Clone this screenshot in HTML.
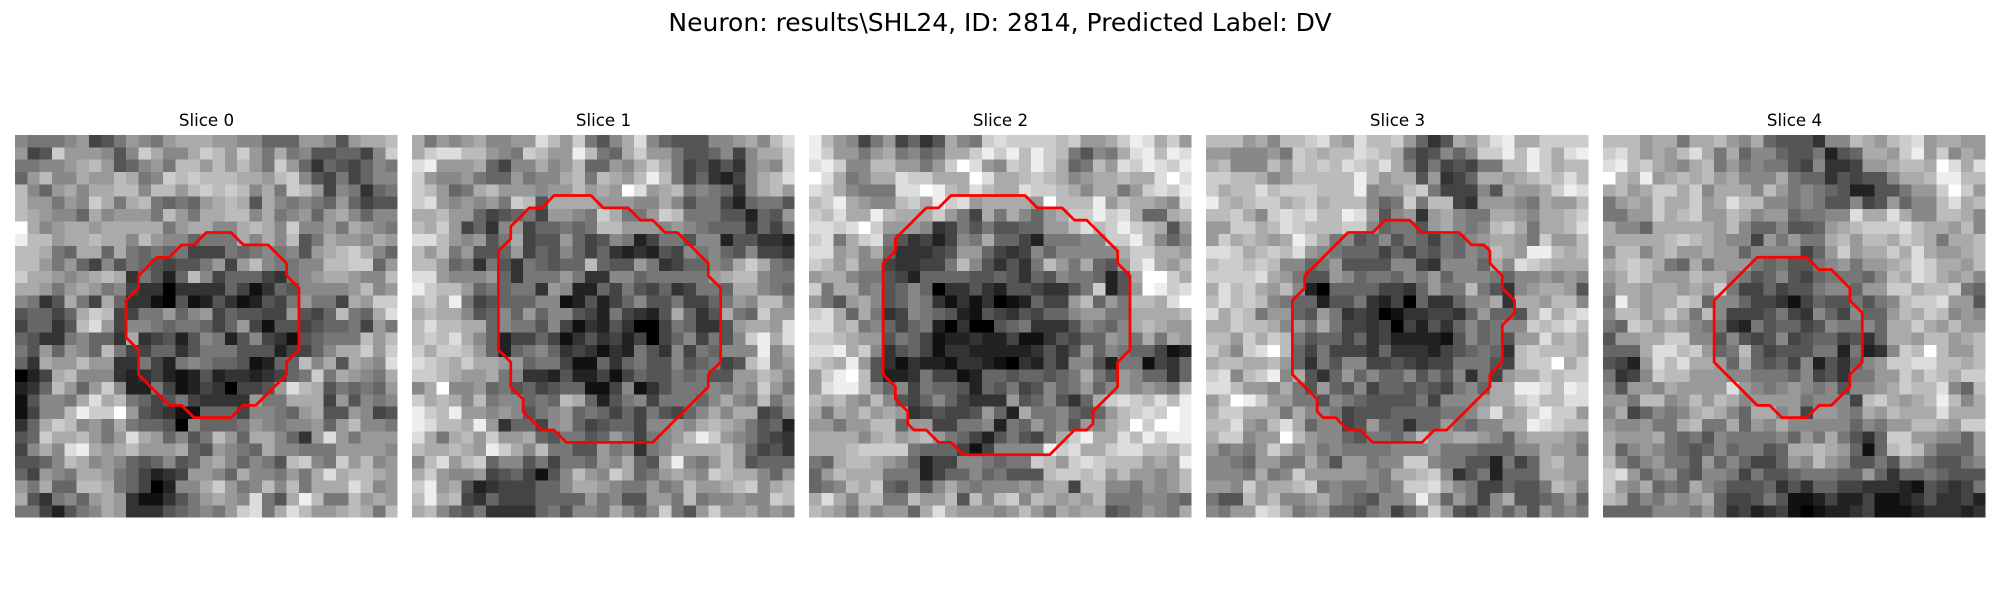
<!DOCTYPE html>
<html lang="en">
<head>
<meta charset="utf-8">
<title>Neuron slices</title>
<style>
html,body{margin:0;padding:0;background:#fff;width:2000px;height:600px;overflow:hidden}
svg{display:block}
text{font-family:"DejaVu Sans","Liberation Sans",sans-serif;fill:#000}
</style>
</head>
<body>
<svg id="figure" xmlns="http://www.w3.org/2000/svg" width="2000" height="600" viewBox="0 0 2000 600">
<rect x="0" y="0" width="2000" height="600" fill="#fff"/>
<text x="1000" y="31" font-size="25" text-anchor="middle">Neuron: results\SHL24, ID: 2814, Predicted Label: DV</text>
<text x="206.5" y="126" font-size="16.67" text-anchor="middle">Slice 0</text>
<text x="603.5" y="126" font-size="16.67" text-anchor="middle">Slice 1</text>
<text x="1000.5" y="126" font-size="16.67" text-anchor="middle">Slice 2</text>
<text x="1397.5" y="126" font-size="16.67" text-anchor="middle">Slice 3</text>
<text x="1794.5" y="126" font-size="16.67" text-anchor="middle">Slice 4</text>
</svg>
<script>
const slice0Values = [
[8,7,7,7,8,9,4,5,7,9,8,7,9,10,10,10,9,9,8,8,6,6,6,9,9,8,5,9,10,10,11],
[9,4,5,12,9,9,9,8,5,8,12,10,8,8,10,12,11,9,12,9,7,10,7,8,5,5,6,6,4,8,12],
[7,7,8,8,9,10,11,9,5,6,8,9,7,11,11,9,11,9,11,9,7,12,9,6,3,6,5,4,6,8,7],
[6,9,11,8,8,10,9,9,11,10,7,8,12,11,12,11,11,11,10,10,9,11,12,8,5,4,7,4,6,8,8],
[11,8,6,9,10,8,10,10,11,11,8,11,11,9,11,12,11,12,11,8,10,7,12,11,9,4,8,7,3,6,7],
[11,9,9,7,9,8,12,10,7,10,11,7,6,7,6,9,10,11,10,5,10,8,7,8,7,6,9,6,4,5,5],
[11,10,9,8,8,6,10,8,9,9,9,7,11,9,7,10,10,11,11,8,10,7,8,9,6,9,10,8,6,8,8],
[15,10,8,9,10,10,9,10,10,10,10,10,7,9,10,10,8,8,10,11,10,8,12,8,8,9,7,10,9,8,7],
[14,11,11,9,10,10,11,10,10,8,11,9,8,8,6,7,7,7,10,8,10,8,11,5,7,10,9,9,8,10,9],
[11,11,10,7,6,10,10,6,10,7,6,7,6,7,4,4,4,7,6,7,8,7,8,5,9,10,11,12,10,8,6],
[11,11,9,7,9,6,4,8,5,7,6,5,4,5,5,7,9,4,9,11,8,7,7,8,8,11,11,12,12,6,9],
[12,10,10,9,8,9,10,11,10,3,7,5,2,6,11,8,4,6,6,6,4,3,7,8,9,10,10,9,8,8,11],
[10,10,9,7,9,10,9,7,8,4,3,3,0,3,3,3,3,6,4,1,3,6,5,8,8,8,8,9,11,8,9],
[8,7,3,5,10,7,4,10,6,3,3,1,0,5,1,2,5,3,1,2,5,4,7,9,7,7,4,10,9,12,12],
[5,6,6,4,6,10,12,11,4,4,7,7,9,6,8,9,4,6,5,5,4,4,9,5,4,6,11,7,6,10,13],
[4,6,6,3,5,11,13,9,4,8,8,7,6,7,7,6,4,6,9,4,1,5,5,4,5,6,6,7,4,9,7],
[6,5,3,3,7,8,6,6,3,10,3,4,5,2,5,8,7,2,5,8,4,3,1,5,6,7,7,7,11,9,11],
[7,5,9,6,9,8,6,11,7,4,4,6,6,3,5,7,7,7,5,5,5,2,4,4,6,8,10,10,12,9,12],
[6,3,10,9,9,11,9,9,3,3,7,4,2,7,8,7,6,6,5,1,2,6,6,11,8,10,5,10,9,8,13],
[0,2,4,10,11,8,8,8,3,2,3,4,2,1,2,5,2,3,3,2,3,4,6,7,12,7,10,9,8,7,10],
[2,3,6,11,9,6,9,12,8,2,2,7,4,1,2,4,3,0,4,4,5,9,13,11,10,5,7,6,7,6,9],
[1,5,8,8,7,10,13,10,11,7,6,4,5,7,4,3,3,3,3,9,7,7,10,10,10,4,9,5,8,7,8],
[1,4,8,8,11,14,12,12,15,9,5,4,3,1,1,6,6,6,4,8,8,7,6,9,10,5,5,9,8,4,5],
[3,6,10,12,11,8,9,7,10,7,6,6,5,0,8,6,6,6,7,9,8,7,8,8,9,6,9,11,8,8,7],
[5,6,12,10,10,11,9,7,9,13,10,9,6,8,5,7,11,9,6,10,10,8,6,3,9,13,9,7,9,9,9],
[4,8,10,8,13,14,10,9,10,11,9,9,9,10,6,5,9,8,7,6,10,8,8,7,7,7,9,9,9,9,8],
[5,5,6,8,11,10,8,9,8,6,5,6,8,5,6,9,10,8,6,8,7,5,11,12,8,7,12,9,11,8,9],
[6,4,9,8,7,10,10,9,7,6,4,2,3,4,9,9,8,6,10,8,8,7,9,7,10,13,10,11,11,10,9],
[9,7,10,6,6,11,11,10,7,6,4,0,2,8,8,10,12,9,7,8,11,8,11,7,10,10,10,13,11,8,9],
[10,5,3,7,8,6,9,10,9,3,1,1,3,5,7,9,10,9,8,13,7,5,10,14,11,7,7,11,9,10,9],
[7,7,4,2,5,7,8,10,9,3,3,3,5,6,7,8,7,9,12,13,7,10,13,11,9,9,10,11,10,7,11]
];
const slice1Values = [
[10,7,9,8,9,10,8,8,9,9,13,11,9,12,7,5,8,10,13,8,6,5,5,5,8,8,9,10,8,11,13],
[10,12,13,13,11,11,9,8,7,12,11,9,9,14,11,7,6,10,12,9,9,7,5,5,6,8,4,8,10,10,12],
[13,14,9,9,9,10,6,4,8,8,10,8,9,11,6,6,9,8,10,12,10,7,4,5,3,5,3,8,9,8,12],
[12,9,8,8,9,7,6,6,9,7,8,8,10,11,7,11,10,9,11,14,11,7,4,6,3,2,4,8,10,11,13],
[12,11,9,6,7,10,11,9,9,9,8,9,9,11,9,10,9,15,13,9,10,11,7,8,7,6,3,8,10,11,9],
[12,13,9,8,9,8,9,7,12,11,5,10,10,10,10,9,9,9,8,8,10,8,5,7,7,4,2,6,7,7,5],
[10,10,11,9,9,6,4,5,6,7,4,9,9,8,7,12,10,7,7,9,12,11,7,7,7,5,5,2,6,5,9],
[11,10,12,9,4,6,3,8,9,4,6,6,7,6,7,11,11,9,9,9,8,9,8,7,6,6,6,3,6,4,7],
[13,13,11,9,8,9,5,7,10,4,5,5,9,6,4,5,8,7,2,4,7,7,5,8,8,2,5,5,3,3,2],
[11,9,11,7,9,5,5,6,9,4,6,5,8,6,4,6,3,2,3,2,5,4,8,7,8,6,5,8,4,4,3],
[11,11,9,6,7,3,7,5,3,7,6,5,6,6,11,6,5,5,9,7,3,4,6,6,8,7,10,12,10,7,6],
[13,13,9,8,8,8,9,6,3,7,7,7,9,7,3,3,8,8,6,7,7,7,7,7,9,10,11,11,8,7,7],
[14,12,11,11,9,6,7,6,7,7,3,9,8,2,2,6,4,7,5,4,6,3,4,7,7,6,10,10,8,7,6],
[11,12,10,14,7,4,5,6,6,6,8,8,1,2,5,2,4,6,8,5,5,7,4,4,6,7,9,8,11,11,8],
[10,11,10,10,8,5,6,8,6,9,6,8,8,5,4,2,7,4,3,2,5,10,6,3,5,10,7,6,12,9,9],
[11,13,11,11,10,10,6,8,7,7,5,8,4,1,3,2,5,3,0,0,4,7,6,3,3,5,9,10,10,9,13],
[11,12,11,13,10,8,6,2,4,4,6,4,1,3,5,3,4,2,4,0,4,6,8,4,7,5,8,12,14,10,13],
[12,10,12,12,11,9,6,2,6,7,8,6,3,4,3,1,3,2,7,5,3,8,4,7,6,8,8,8,14,8,10],
[13,12,11,10,12,10,10,9,9,6,7,7,4,1,1,6,3,6,7,5,5,8,5,6,7,4,5,11,13,8,9],
[12,12,11,10,9,9,10,7,8,3,3,2,5,2,2,4,1,4,6,5,5,7,6,7,5,5,9,9,11,10,8],
[8,10,15,8,8,9,6,7,5,6,4,5,6,6,1,1,4,8,1,3,5,7,7,7,8,7,9,8,12,9,7],
[12,10,11,10,8,11,7,8,8,6,7,6,11,10,6,2,5,7,8,4,7,7,7,6,8,10,8,7,11,7,9],
[14,12,11,14,9,9,8,9,8,5,7,8,9,6,7,6,4,6,4,7,5,4,6,8,10,8,10,10,4,5,8],
[14,13,11,11,10,14,9,3,6,6,4,8,9,6,4,5,6,6,4,8,8,9,8,10,11,10,9,7,5,6,2],
[13,10,7,10,11,9,12,9,9,10,6,5,7,7,5,6,9,7,4,7,8,9,11,14,12,9,8,7,5,4,3],
[11,10,10,11,10,9,14,12,10,8,11,7,7,5,5,9,7,8,3,7,8,10,10,10,10,11,9,6,4,5,3],
[8,11,13,9,11,12,6,8,8,5,7,4,7,7,6,9,8,10,6,5,10,14,8,7,9,11,9,5,6,6,6],
[10,12,9,8,8,9,4,5,6,4,1,5,8,11,9,8,12,10,6,7,9,10,9,8,12,11,10,10,8,6,9],
[12,14,9,10,5,2,3,4,4,4,6,6,8,10,10,9,8,7,7,9,7,8,11,9,9,10,11,12,8,10,11],
[11,14,10,11,4,3,6,4,4,4,6,6,6,6,9,7,8,5,5,9,9,7,11,7,8,8,9,8,8,12,11],
[10,11,8,6,5,7,3,3,3,3,6,7,5,8,8,7,10,8,6,8,12,7,5,9,12,9,9,10,8,9,8]
];
const slice2Values = [
[14,11,9,8,4,7,9,4,6,3,5,10,8,7,12,13,12,12,12,12,11,12,9,9,10,12,14,13,10,12,9],
[14,12,9,9,7,9,10,7,8,6,7,10,10,12,14,12,14,11,14,12,11,7,5,8,7,10,13,14,11,14,13],
[13,14,12,8,8,11,11,9,9,7,9,12,15,13,9,8,12,11,14,12,10,6,7,11,9,13,12,14,13,12,14],
[15,13,10,7,8,10,10,13,12,12,10,10,10,15,13,10,10,11,12,11,10,8,9,10,10,11,10,10,13,15,13],
[13,12,10,8,7,7,7,13,13,15,14,11,10,13,11,10,10,13,12,12,11,10,8,10,10,7,9,12,13,12,14],
[11,12,14,10,9,8,8,11,12,10,14,12,13,9,10,10,10,10,9,15,11,11,11,14,9,11,10,10,9,8,13],
[12,11,13,10,10,14,11,10,10,10,12,9,7,4,10,7,10,8,6,9,10,12,12,14,12,13,10,6,6,10,11],
[13,13,12,13,15,12,9,9,9,8,3,4,7,5,7,5,5,6,6,9,9,11,13,11,12,14,12,11,10,5,9],
[12,13,7,10,12,13,7,5,3,4,2,4,8,7,10,6,6,4,2,7,7,7,8,8,12,12,14,11,8,6,8],
[13,13,9,10,8,10,6,3,3,3,4,5,9,9,6,4,3,4,8,6,8,8,8,8,8,10,12,12,10,10,9],
[12,11,9,11,8,8,4,3,3,4,4,7,11,8,5,3,5,3,7,11,9,7,10,6,5,9,12,14,10,9,11],
[9,10,10,8,7,7,5,4,2,6,6,6,6,5,5,6,5,3,6,5,8,7,7,6,2,5,10,15,15,12,10],
[12,7,10,10,7,8,5,6,8,6,0,3,3,5,3,2,5,5,4,3,3,5,7,12,2,5,9,15,14,12,13],
[9,7,5,9,10,8,5,6,8,7,3,1,3,1,3,0,1,2,6,4,4,9,11,6,9,7,11,11,10,13,15],
[12,13,10,6,10,7,3,4,8,7,6,5,2,1,5,4,3,5,4,6,6,8,9,9,7,7,10,10,10,10,11],
[13,13,10,11,7,8,6,4,6,7,2,0,3,0,0,5,6,7,3,3,3,5,8,7,6,8,10,11,10,9,9],
[12,12,11,10,9,9,5,7,6,4,1,2,2,3,2,2,4,1,1,3,5,4,6,6,9,8,7,10,7,10,9],
[13,13,14,10,12,8,3,5,6,4,1,3,3,2,2,2,2,2,3,5,3,5,9,6,8,7,6,6,4,1,2],
[12,11,10,14,9,5,3,1,3,2,2,1,3,3,2,1,0,3,2,5,3,8,8,5,2,7,7,1,4,3,6],
[9,12,14,15,11,5,2,2,3,7,4,4,1,2,6,6,5,6,6,5,6,7,10,7,5,9,8,6,6,3,6],
[9,13,14,14,11,8,6,8,4,7,6,6,5,2,6,5,7,4,5,8,6,7,9,6,8,9,8,9,8,7,11],
[11,10,11,9,8,11,8,5,4,6,8,6,4,3,3,3,9,5,6,8,5,3,6,10,12,13,12,11,13,11,14],
[10,7,10,9,11,9,10,9,3,4,5,4,4,5,9,6,2,10,7,7,8,6,5,6,9,11,12,13,12,15,14],
[9,9,7,9,9,11,11,6,9,9,4,4,7,7,8,2,7,6,9,7,8,5,9,8,10,11,15,12,15,15,14],
[10,10,10,10,8,10,11,9,10,11,9,7,6,4,2,5,7,5,4,7,10,12,14,10,10,13,11,14,12,14,14],
[10,10,10,11,12,12,12,12,7,6,6,6,4,1,4,8,8,8,8,14,12,13,10,10,12,13,13,11,11,10,12],
[7,6,10,11,11,10,9,8,6,2,4,4,8,8,7,6,7,7,12,11,9,12,13,12,11,11,11,9,10,9,14],
[6,9,11,10,10,10,7,7,7,2,4,6,6,8,6,7,5,5,5,11,12,12,11,12,9,11,9,9,8,9,11],
[6,7,8,11,10,12,6,5,7,5,8,10,8,7,8,8,8,9,8,10,10,4,11,11,8,8,7,9,8,9,11],
[10,13,10,8,11,11,7,7,11,9,9,11,5,11,8,11,12,8,11,10,9,10,9,11,7,7,7,8,8,7,6],
[11,10,9,7,10,8,9,9,6,10,13,10,9,9,9,8,9,11,9,7,10,9,10,10,5,6,7,9,8,7,10]
];
const slice3Values = [
[11,11,11,9,10,8,11,11,12,13,10,9,13,11,11,12,9,6,3,5,10,9,11,13,14,10,10,12,12,12,12],
[9,9,8,8,8,9,7,12,11,10,11,11,13,12,11,10,6,4,5,8,6,8,12,12,14,11,14,12,10,13,14],
[10,11,8,8,8,11,9,12,11,12,11,13,12,11,13,10,7,4,7,4,5,4,7,7,11,11,14,12,10,11,11],
[12,12,11,11,10,8,9,11,11,11,11,11,14,11,9,10,10,5,9,3,4,6,10,10,9,10,11,12,11,13,11],
[12,10,11,11,13,11,12,12,12,11,11,11,14,8,9,9,11,12,7,4,4,4,8,5,10,9,9,10,12,14,13],
[14,11,10,11,12,12,10,11,12,10,11,11,11,8,6,7,12,7,11,11,4,3,9,9,9,8,7,10,9,9,11],
[11,11,12,10,8,12,13,12,13,11,11,14,13,9,5,8,9,3,9,10,8,7,7,10,10,9,8,10,10,11,12],
[9,9,12,12,10,11,13,12,11,11,11,12,12,8,6,7,7,5,9,10,8,7,8,11,12,10,7,10,10,11,13],
[9,12,10,11,10,9,10,14,12,10,7,8,5,6,8,5,7,6,4,7,6,8,9,10,10,9,7,12,9,9,11],
[13,13,12,10,11,12,11,13,9,8,7,6,6,6,4,6,4,6,5,7,6,8,7,11,10,9,14,14,11,10,11],
[11,12,12,11,12,11,8,8,6,7,9,5,5,5,5,8,8,4,3,8,8,8,6,10,8,13,12,11,10,10,10],
[12,12,12,12,13,10,9,7,5,5,9,8,6,7,7,6,8,7,9,6,8,8,8,7,6,8,8,9,8,9,8],
[10,13,11,12,10,9,11,8,2,0,6,6,6,6,4,4,3,6,9,7,7,11,7,5,3,8,9,10,10,9,5],
[11,13,11,12,11,8,7,6,6,2,5,5,7,3,2,4,0,6,3,3,6,8,8,10,3,10,10,9,11,11,8],
[13,10,12,11,7,9,9,6,5,9,7,3,4,3,0,1,3,3,4,4,3,6,9,6,6,5,10,13,10,12,13],
[10,10,12,11,11,10,8,9,7,10,7,4,4,3,4,0,4,2,5,3,6,8,6,7,8,8,12,11,12,13,11],
[11,11,9,12,10,12,11,7,5,6,6,4,6,3,4,2,2,2,2,1,5,8,6,7,5,9,9,13,10,11,10],
[12,10,8,12,13,15,11,6,4,7,4,4,4,3,6,3,3,3,2,4,5,6,7,6,3,11,12,11,11,11,10],
[10,11,11,10,10,11,9,6,3,7,5,8,8,4,4,5,4,3,4,4,7,7,7,5,4,11,12,12,15,10,12],
[12,13,8,11,12,14,8,10,5,3,6,9,6,8,6,6,8,5,7,5,8,3,7,4,9,10,10,12,11,12,12],
[13,13,11,9,9,8,10,7,5,9,6,5,8,4,6,6,5,6,5,4,7,8,6,10,10,14,14,13,11,14,13],
[9,11,15,14,12,9,9,7,7,5,8,7,6,5,5,5,5,7,4,8,8,8,9,10,10,12,13,11,11,13,13],
[10,12,12,10,10,10,7,10,8,8,7,4,5,5,5,6,6,6,6,7,7,8,10,13,9,10,12,14,12,12,9],
[11,11,13,9,8,11,13,10,6,8,8,4,5,9,6,6,3,6,6,9,7,6,8,8,10,10,14,13,12,11,11],
[10,12,12,8,9,9,15,11,9,8,8,6,5,7,7,6,8,11,9,9,10,10,9,8,6,9,10,10,10,9,8],
[9,7,8,7,9,12,10,8,9,7,8,7,7,7,7,8,8,8,9,7,7,7,6,6,6,8,8,10,9,9,7],
[8,8,7,6,9,9,7,7,10,8,5,9,9,7,8,8,12,12,8,7,7,5,5,2,7,4,6,10,11,9,9],
[8,8,8,7,10,7,8,12,9,9,9,9,9,8,7,10,10,11,12,8,3,5,7,2,6,6,6,10,10,9,9],
[9,9,8,12,9,10,10,11,12,7,8,7,7,8,7,8,12,12,13,10,8,7,4,4,6,5,5,7,11,10,8],
[7,5,5,11,9,11,8,8,9,10,8,7,6,5,8,8,9,14,10,6,9,7,4,8,10,5,5,6,7,9,6],
[8,7,9,9,13,12,10,7,8,9,6,6,5,7,8,4,6,8,12,9,5,4,6,8,6,8,5,9,7,8,7]
];
const slice4Values = [
[11,11,11,9,10,10,7,10,10,11,9,8,10,6,5,5,5,3,8,8,11,10,9,11,12,13,9,10,10,9,9],
[12,13,11,9,10,9,11,13,10,7,10,6,8,8,6,5,5,7,2,5,6,10,10,9,12,14,9,12,8,10,9],
[13,14,11,12,10,9,8,10,11,7,9,7,8,7,7,5,4,8,3,3,4,9,9,10,11,11,10,15,13,10,13],
[15,11,10,14,9,10,11,10,11,9,10,8,8,8,10,7,6,6,3,5,4,5,5,8,10,10,11,14,14,11,11],
[10,11,9,10,12,12,10,12,8,10,10,10,8,11,9,7,8,7,6,5,2,2,5,5,7,9,9,12,15,12,9],
[7,9,10,9,12,10,10,12,9,10,13,11,11,8,8,7,8,7,5,5,8,4,5,9,6,8,8,11,13,10,11],
[7,7,9,9,12,10,11,12,9,9,11,10,8,9,9,6,7,7,8,8,13,10,10,13,10,8,8,11,11,10,8],
[10,8,8,6,10,10,10,10,10,9,11,8,6,6,8,5,5,6,9,10,11,12,12,12,13,11,10,10,9,11,8],
[10,10,10,10,10,11,12,11,10,9,8,8,4,9,7,9,7,7,10,11,9,11,11,10,12,11,10,7,10,10,11],
[8,11,11,8,10,11,9,9,10,9,9,6,8,8,8,8,4,6,9,12,9,10,10,12,10,13,10,9,9,10,11],
[10,11,12,11,10,7,6,10,7,9,9,9,7,6,7,5,5,7,8,9,7,9,9,10,11,13,12,10,10,9,11],
[9,10,12,11,9,9,9,11,10,10,8,7,5,6,8,5,4,6,7,7,7,6,8,11,10,13,12,10,9,10,8],
[8,10,10,9,10,10,9,10,9,12,7,4,4,6,4,5,5,7,8,8,6,9,9,12,12,10,11,11,12,7,6],
[7,14,10,9,10,10,12,11,6,8,8,6,4,4,3,1,4,6,5,5,7,5,7,8,11,12,12,13,9,9,5],
[8,11,11,9,10,12,10,7,11,8,4,4,4,5,7,4,3,8,6,4,8,6,6,9,11,10,12,11,8,9,8],
[7,6,12,11,9,10,9,8,7,7,3,2,7,5,6,6,4,5,8,7,7,8,6,10,10,12,10,9,11,9,9],
[5,9,9,10,10,12,12,8,8,5,8,5,4,5,8,4,5,6,6,4,5,3,6,10,10,9,11,11,9,10,11],
[6,6,6,10,13,13,11,12,9,6,7,11,6,4,5,5,5,7,7,2,7,2,3,8,12,11,15,11,9,9,11],
[5,4,2,9,13,11,13,10,10,9,6,10,6,5,6,4,8,2,5,3,6,8,9,12,12,13,13,11,11,10,11],
[7,3,4,8,12,11,11,9,9,9,8,8,7,7,7,6,8,4,5,3,7,7,9,9,12,10,12,11,10,12,12],
[8,5,9,9,8,10,9,9,9,9,13,9,8,7,8,9,8,7,8,5,8,8,9,10,12,11,11,13,8,6,11],
[9,9,7,11,11,8,9,11,9,11,10,8,9,9,9,9,7,8,8,8,4,11,12,10,9,10,11,14,11,8,10],
[8,10,4,6,8,7,8,10,11,10,8,6,10,10,8,9,4,9,9,8,7,10,9,11,10,10,10,13,10,10,10],
[9,8,8,9,7,7,10,11,7,7,10,6,9,8,10,8,8,8,8,8,6,8,7,9,9,11,11,10,9,12,12],
[10,9,9,9,10,7,6,7,5,8,7,7,7,7,8,6,9,7,10,7,5,3,6,12,12,9,9,8,8,6,9],
[10,6,8,9,8,7,6,5,6,8,6,7,7,5,6,10,10,11,10,9,6,1,6,11,12,11,8,6,6,6,9],
[11,8,6,8,9,7,7,5,9,6,8,6,4,4,6,9,8,11,9,8,5,5,7,5,9,8,6,5,5,7,8],
[12,13,9,6,8,9,6,5,8,8,7,4,7,5,5,6,7,7,7,6,6,9,6,3,6,6,7,6,5,5,5],
[12,9,8,10,6,7,6,10,8,7,5,5,5,6,3,5,3,6,6,4,4,3,3,3,2,1,5,4,3,4,7],
[11,10,6,8,7,9,8,9,10,6,4,4,5,7,5,1,1,2,4,2,2,4,1,1,2,3,5,3,3,4,2],
[6,6,6,6,8,8,8,7,9,6,3,4,2,3,4,1,0,1,2,2,3,4,1,1,1,2,3,3,3,2,3]
];
const slice0ContourX = [15.5,17.5,18.5,20.5,22,22,23,23,22,22,19.5,18.5,17.5,14.5,13.5,12.5,10,10,9,9,10,10,11.5,12.5,13.5,14.5,15.5];
const slice0ContourY = [7.9,7.9,8.9,8.9,10.4,11.4,12.4,17.4,18.4,19.4,21.9,21.9,22.9,22.9,21.9,21.9,19.4,17.4,16.4,13.4,12.4,11.4,9.9,9.9,8.9,8.9,7.9];
const slice1ContourX = [11.5,14.5,15.5,17.5,18.5,19.5,20.5,21.5,24,24,25,25,24,24,19.5,12.5,11.5,10.5,9,9,8,8,7,7,8,8,9.5,10.5,11.5];
const slice1ContourY = [4.9,4.9,5.9,5.9,6.9,6.9,7.9,7.9,10.4,11.4,12.4,18.4,19.4,20.4,24.9,24.9,23.9,23.9,22.4,21.4,20.4,18.4,17.4,9.4,8.4,7.4,5.9,5.9,4.9];
const slice2ContourX = [11.5,17.5,18.5,20.5,21.5,22.5,25,25,26,26,25,25,23,23,22.5,21.5,19.5,12.5,11.5,10.5,9.5,8.5,8,8,7,7,6,6,7,7,9.5,10.5,11.5];
const slice2ContourY = [4.9,4.9,5.9,5.9,6.9,6.9,9.4,10.4,11.4,17.4,18.4,20.4,22.4,23.4,23.9,23.9,25.9,25.9,24.9,24.9,23.9,23.9,23.4,22.4,21.4,20.4,19.4,10.4,9.4,8.4,5.9,5.9,4.9];
const slice3ContourX = [14.5,16.5,17.5,20.5,21.5,22.5,23,23,24,24,25,25,24,24,23,23,19.5,18.5,17.5,13.5,12.5,11.5,10.5,9.5,9,9,7,7,8,8,11.5,13.5,14.5];
const slice3ContourY = [6.9,6.9,7.9,7.9,8.9,8.9,9.4,10.4,11.4,12.4,13.4,14.4,15.4,18.4,19.4,20.4,23.9,23.9,24.9,24.9,23.9,23.9,22.9,22.9,22.4,21.4,19.4,13.4,12.4,11.4,7.9,7.9,6.9];
const slice4ContourX = [12.5,16.5,17.5,18.5,20,20,21,21,20,20,18.5,17.5,16.5,14.5,13.5,12.5,9,9,12.5];
const slice4ContourY = [9.9,9.9,10.9,10.9,12.4,13.4,14.4,18.4,19.4,20.4,21.9,21.9,22.9,22.9,21.9,21.9,18.4,13.4,9.9];

const sliceValues = [slice0Values, slice1Values, slice2Values, slice3Values, slice4Values];
const sliceContourX = [slice0ContourX, slice1ContourX, slice2ContourX, slice3ContourX, slice4ContourX];
const sliceContourY = [slice0ContourY, slice1ContourY, slice2ContourY, slice3ContourY, slice4ContourY];

const SVG_NS = 'http://www.w3.org/2000/svg';
const GRID_SIZE = 31;
const PANEL_SIZE = 382.7;
const PANEL_TOP = 135;
const figure = document.getElementById('figure');

function panelLeft(panel) { return 15 + panel * 397; }
function xScale(panel, u) { return panelLeft(panel) + u * PANEL_SIZE / GRID_SIZE; }
function yScale(v) { return PANEL_TOP + v * PANEL_SIZE / GRID_SIZE; }
function grayScale(value) { const g = Math.max(0, Math.min(255, Math.round(value * 17))); return 'rgb(' + g + ',' + g + ',' + g + ')'; }

sliceValues.forEach(function (rows, panel) {
  const group = document.createElementNS(SVG_NS, 'g');
  
  
  group.setAttribute('shape-rendering', 'crispEdges');
  rows.forEach(function (row, r) {
    row.forEach(function (value, c) {
      const cell = document.createElementNS(SVG_NS, 'rect');
      
      
      cell.setAttribute('x', xScale(panel, c).toFixed(2));
      cell.setAttribute('y', yScale(r).toFixed(2));
      cell.setAttribute('width', (xScale(panel, c + 1) - xScale(panel, c)).toFixed(2));
      cell.setAttribute('height', (yScale(r + 1) - yScale(r)).toFixed(2));
      cell.setAttribute('fill', grayScale(value));
      group.appendChild(cell);
    });
  });
  figure.appendChild(group);

  const outline = document.createElementNS(SVG_NS, 'polyline');
  
  
  const xs = sliceContourX[panel];
  const ys = sliceContourY[panel];
  outline.setAttribute('points', xs.map(function (u, i) {
    return xScale(panel, u).toFixed(2) + ',' + yScale(ys[i]).toFixed(2);
  }).join(' '));
  outline.setAttribute('fill', 'none');
  outline.setAttribute('stroke', '#ff0000');
  outline.setAttribute('stroke-width', '2.78');
  outline.setAttribute('stroke-linejoin', 'round');
  outline.setAttribute('stroke-linecap', 'round');
  figure.appendChild(outline);
});
</script>
</body>
</html>
